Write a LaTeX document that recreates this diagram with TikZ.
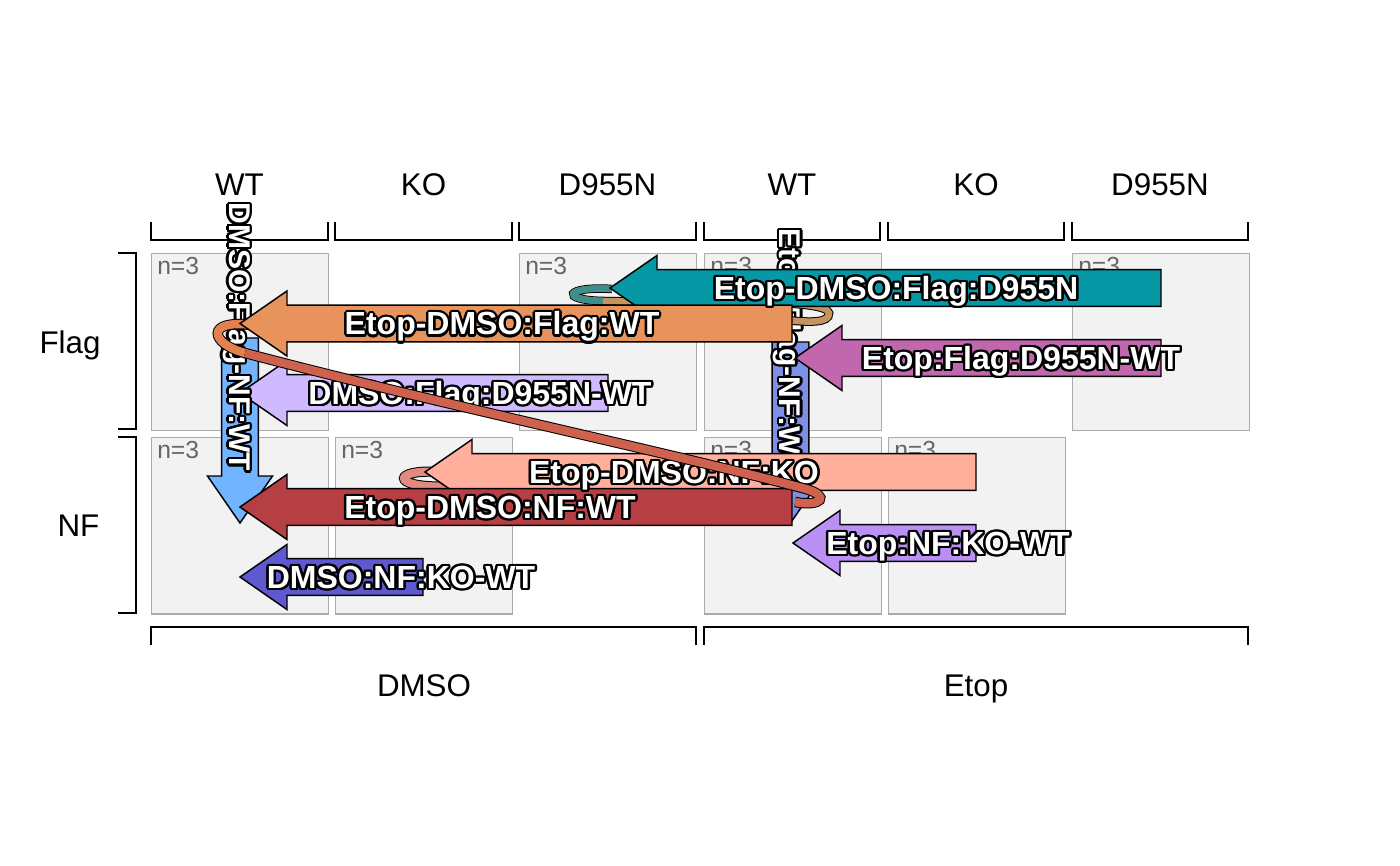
\documentclass[tikz,border=0pt]{standalone}
\usepackage{fontspec}
\setmainfont{Liberation Sans}
\usetikzlibrary{calc}
\definecolor{cellfill}{HTML}{F2F2F2}
\definecolor{cellline}{HTML}{ABABAB}
\definecolor{ngrey}{HTML}{666666}
\definecolor{cteal}{HTML}{0798A6}
\definecolor{corange}{HTML}{E8935B}
\definecolor{cmagenta}{HTML}{C067AD}
\definecolor{clav}{HTML}{CFB9FF}
\definecolor{cblueD}{HTML}{72B4FF}
\definecolor{cblueE}{HTML}{7D8FE6}
\definecolor{csalmon}{HTML}{FFAF9B}
\definecolor{cdred}{HTML}{B53F42}
\definecolor{clpurp}{HTML}{BA90F5}
\definecolor{cindigo}{HTML}{5F59CF}
\definecolor{ribAa}{HTML}{3E8F8C}
\definecolor{ribAb}{HTML}{C4935F}
\definecolor{ribBa}{HTML}{E2814F}
\definecolor{ribBb}{HTML}{CE624F}
\definecolor{ribC}{HTML}{E38A80}

\def\ahb{13.8pt}\def\ahh{24.4pt}\def\ahl{35.25pt}

\newcommand\hc[3]{\rlap{\kern#1\raisebox{#2}{\color{black}#3}}}
\newcommand\halo[1]{\leavevmode
 \hc{1.8pt}{0pt}{#1}\hc{1.66pt}{0.69pt}{#1}\hc{1.27pt}{1.27pt}{#1}\hc{0.69pt}{1.66pt}{#1}%
 \hc{0pt}{1.8pt}{#1}\hc{-0.69pt}{1.66pt}{#1}\hc{-1.27pt}{1.27pt}{#1}\hc{-1.66pt}{0.69pt}{#1}%
 \hc{-1.8pt}{0pt}{#1}\hc{-1.66pt}{-0.69pt}{#1}\hc{-1.27pt}{-1.27pt}{#1}\hc{-0.69pt}{-1.66pt}{#1}%
 \hc{0pt}{-1.8pt}{#1}\hc{0.69pt}{-1.66pt}{#1}\hc{1.27pt}{-1.27pt}{#1}\hc{1.66pt}{-0.69pt}{#1}%
 #1}

\newcommand\arrowL[3]{%
  \draw[blockarrow, fill=#3] let \p1=(#1), \p2=(#2) in
   (\x1,\y1+\ahb) -- (\x2+\ahl,\y1+\ahb) -- (\x2+\ahl,\y1+\ahh) -- (\x2,\y1)
   -- (\x2+\ahl,\y1-\ahh) -- (\x2+\ahl,\y1-\ahb) -- (\x1,\y1-\ahb) -- cycle;}
\newcommand\arrowD[3]{%
  \draw[blockarrow, fill=#3] let \p1=(#1), \p2=(#2) in
   (\x1-\ahb,\y1) -- (\x1-\ahb,\y2+\ahl) -- (\x1-\ahh,\y2+\ahl) -- (\x1,\y2)
   -- (\x1+\ahh,\y2+\ahl) -- (\x1+\ahb,\y2+\ahl) -- (\x1+\ahb,\y1) -- cycle;}

\begin{document}
\begin{tikzpicture}[x=0.75pt,y=-0.75pt,
  cell/.style={draw=cellline, fill=cellfill, line width=1.1pt, minimum width=132.75pt,
    minimum height=132.4pt, inner sep=0pt, anchor=north west},
  nlab/.style={text=ngrey, font=\fontsize{18.5pt}{18.5pt}\selectfont, inner sep=0pt, anchor=base west},
  axlab/.style={font=\fontsize{23.5pt}{24pt}\selectfont, inner sep=0pt, text height=16.8pt, text depth=0pt},
  brk/.style={line width=1.1pt, draw=black},
  blockarrow/.style={draw=black, line width=1.1pt, line join=miter},
  lbl/.style={font=\bfseries\fontsize{24pt}{24pt}\selectfont, text=white, inner sep=0pt,
    text height=17.2pt, text depth=0pt},
  vlbl/.style={lbl, font=\bfseries\fontsize{22.5pt}{22.5pt}\selectfont, text height=16.1pt, rotate=-90}]
\useasboundingbox[fill=white] (0,0) rectangle (1400,866);

% ---- panels
\node[cell] (c11) at (151,253) {};
\node[cell] (c13) at (519,253) {};
\node[cell] (c14) at (704,253) {};
\node[cell] (c16) at (1072,253) {};
\node[cell] (c21) at (151,436.5) {};
\node[cell] (c22) at (335,436.5) {};
\node[cell] (c24) at (704,436.5) {};
\node[cell] (c25) at (888,436.5) {};
\foreach \c in {c11,c13,c14,c16,c21,c22,c24,c25}
  \node[nlab] (n\c) at ($(\c.north west)+(6,22)$) {n=3};

% ---- top brackets and labels
\foreach \xl/\xr/\t/\nm in {151/328/WT/t1, 335/512/KO/t2, 519/696/D955N/t3,
                            704/880/WT/t4, 888/1064/KO/t5, 1072/1248/D955N/t6}{
  \draw[brk] (\xl,222) -- (\xl,240) -- (\xr,240) -- (\xr,222);
  \node[axlab] (\nm) at ({(\xl+\xr)/2},184) {\t};
}
% ---- left brackets
\draw[brk] (118,253) -- (136,253) -- (136,429) -- (118,429);
\draw[brk] (118,437) -- (136,437) -- (136,613) -- (118,613);
\node[axlab] (rFlag) at (70,342) {Flag};
\node[axlab] (rNF) at (78.5,525) {NF};
% ---- bottom brackets
\draw[brk] (151,645) -- (151,627) -- (696,627) -- (696,645);
\draw[brk] (704,645) -- (704,627) -- (1248,627) -- (1248,645);
\node[axlab] (bDMSO) at (424,685) {DMSO};
\node[axlab] (bEtop) at (976,685) {Etop};

% ---- arrow end points
\coordinate (lavT) at (608,393);   \coordinate (lavH) at (240,393);
\coordinate (bdT) at (240,338);    \coordinate (bdH) at (240,523);
\coordinate (indT) at (423,577);   \coordinate (indH) at (240,577);
\coordinate (beT) at (790.5,342);  \coordinate (beH) at (790.5,523);
\coordinate (magT) at (1161,358);  \coordinate (magH) at (795,358);
\coordinate (lpT) at (976,543);    \coordinate (lpH) at (793,543);
\coordinate (tealT) at (1161,288); \coordinate (tealH) at (610,288);
\coordinate (orgT) at (792,323.5); \coordinate (orgH) at (240,323.5);
\coordinate (salT) at (976,472);   \coordinate (salH) at (425,472);
\coordinate (drT) at (792,507);    \coordinate (drH) at (240,507);

% ---- single-effect arrows
\arrowD{bdT}{bdH}{cblueD}
\arrowL{lavT}{lavH}{clav}
\arrowL{indT}{indH}{cindigo}
\arrowD{beT}{beH}{cblueE}
\arrowL{magT}{magH}{cmagenta}
\arrowL{lpT}{lpH}{clpurp}
\node[vlbl] (bdL) at (240,337) {\halo{DMSO:Flag-NF:WT}};
\node[lbl] (lavL) at (480,393) {\halo{DMSO:Flag:D955N-WT}};
\node[lbl] (indL) at (401,577) {\halo{DMSO:NF:KO-WT}};
\node[vlbl] (beL) at (790.5,351) {\halo{Etop:Flag-NF:WT}};
\node[lbl] (magL) at (1021,358) {\halo{Etop:Flag:D955N-WT}};
\node[lbl] (lpL) at (948,543) {\halo{Etop:NF:KO-WT}};

% ---- ribbon behind teal
\draw[line width=6.4pt, black] (612,289) .. controls (566,286) and (558,300) .. (603,301)
  .. controls (700,303) and (827,298) .. (829,313) .. controls (830,324) and (806,322) .. (786,320);
\draw[line width=4.9pt, ribAb] (612,289) .. controls (566,286) and (558,300) .. (603,301)
  .. controls (700,303) and (827,298) .. (829,313) .. controls (830,324) and (806,322) .. (786,320);
\draw[line width=4.9pt, ribAa] (612,289) .. controls (566,286) and (558,300) .. (603,301);

% ---- Etop-DMSO arrows
\arrowL{tealT}{tealH}{cteal}
% curl at the Flag:WT head
\draw[line width=7.8pt, black] (252,325) .. controls (205,319) and (210,343.7) .. (245,353);
\draw[line width=6.3pt, ribBa] (252,325) .. controls (205,319) and (210,343.7) .. (245,353);
\arrowL{orgT}{orgH}{corange}
% curl at the NF:KO head
\draw[line width=7.6pt, black] (438,472) .. controls (394,469) and (390,487) .. (442,486.5) -- (485,489);
\draw[line width=6.1pt, ribC] (438,472) .. controls (394,469) and (390,487) .. (442,486.5) -- (485,489);
\arrowL{salT}{salH}{csalmon}
\arrowL{drT}{drH}{cdred}
\node[lbl] (tealL) at (896,288) {\halo{Etop-DMSO:Flag:D955N}};
\node[lbl] (orgL) at (502,323.5) {\halo{Etop-DMSO:Flag:WT}};
\node[lbl] (salL) at (674,472) {\halo{Etop-DMSO:NF:KO}};
\node[lbl] (drL) at (490,507) {\halo{Etop-DMSO:NF:WT}};

% ---- long ribbon
\draw[line width=7.8pt, black] (245,353) .. controls (430,402) and (680,455) .. (806,489)
  .. controls (830,496) and (822,507) .. (795,502);
\draw[line width=6.3pt, ribBb] (245,353) .. controls (430,402) and (680,455) .. (806,489)
  .. controls (830,496) and (822,507) .. (795,502);
\end{tikzpicture}
\end{document}
